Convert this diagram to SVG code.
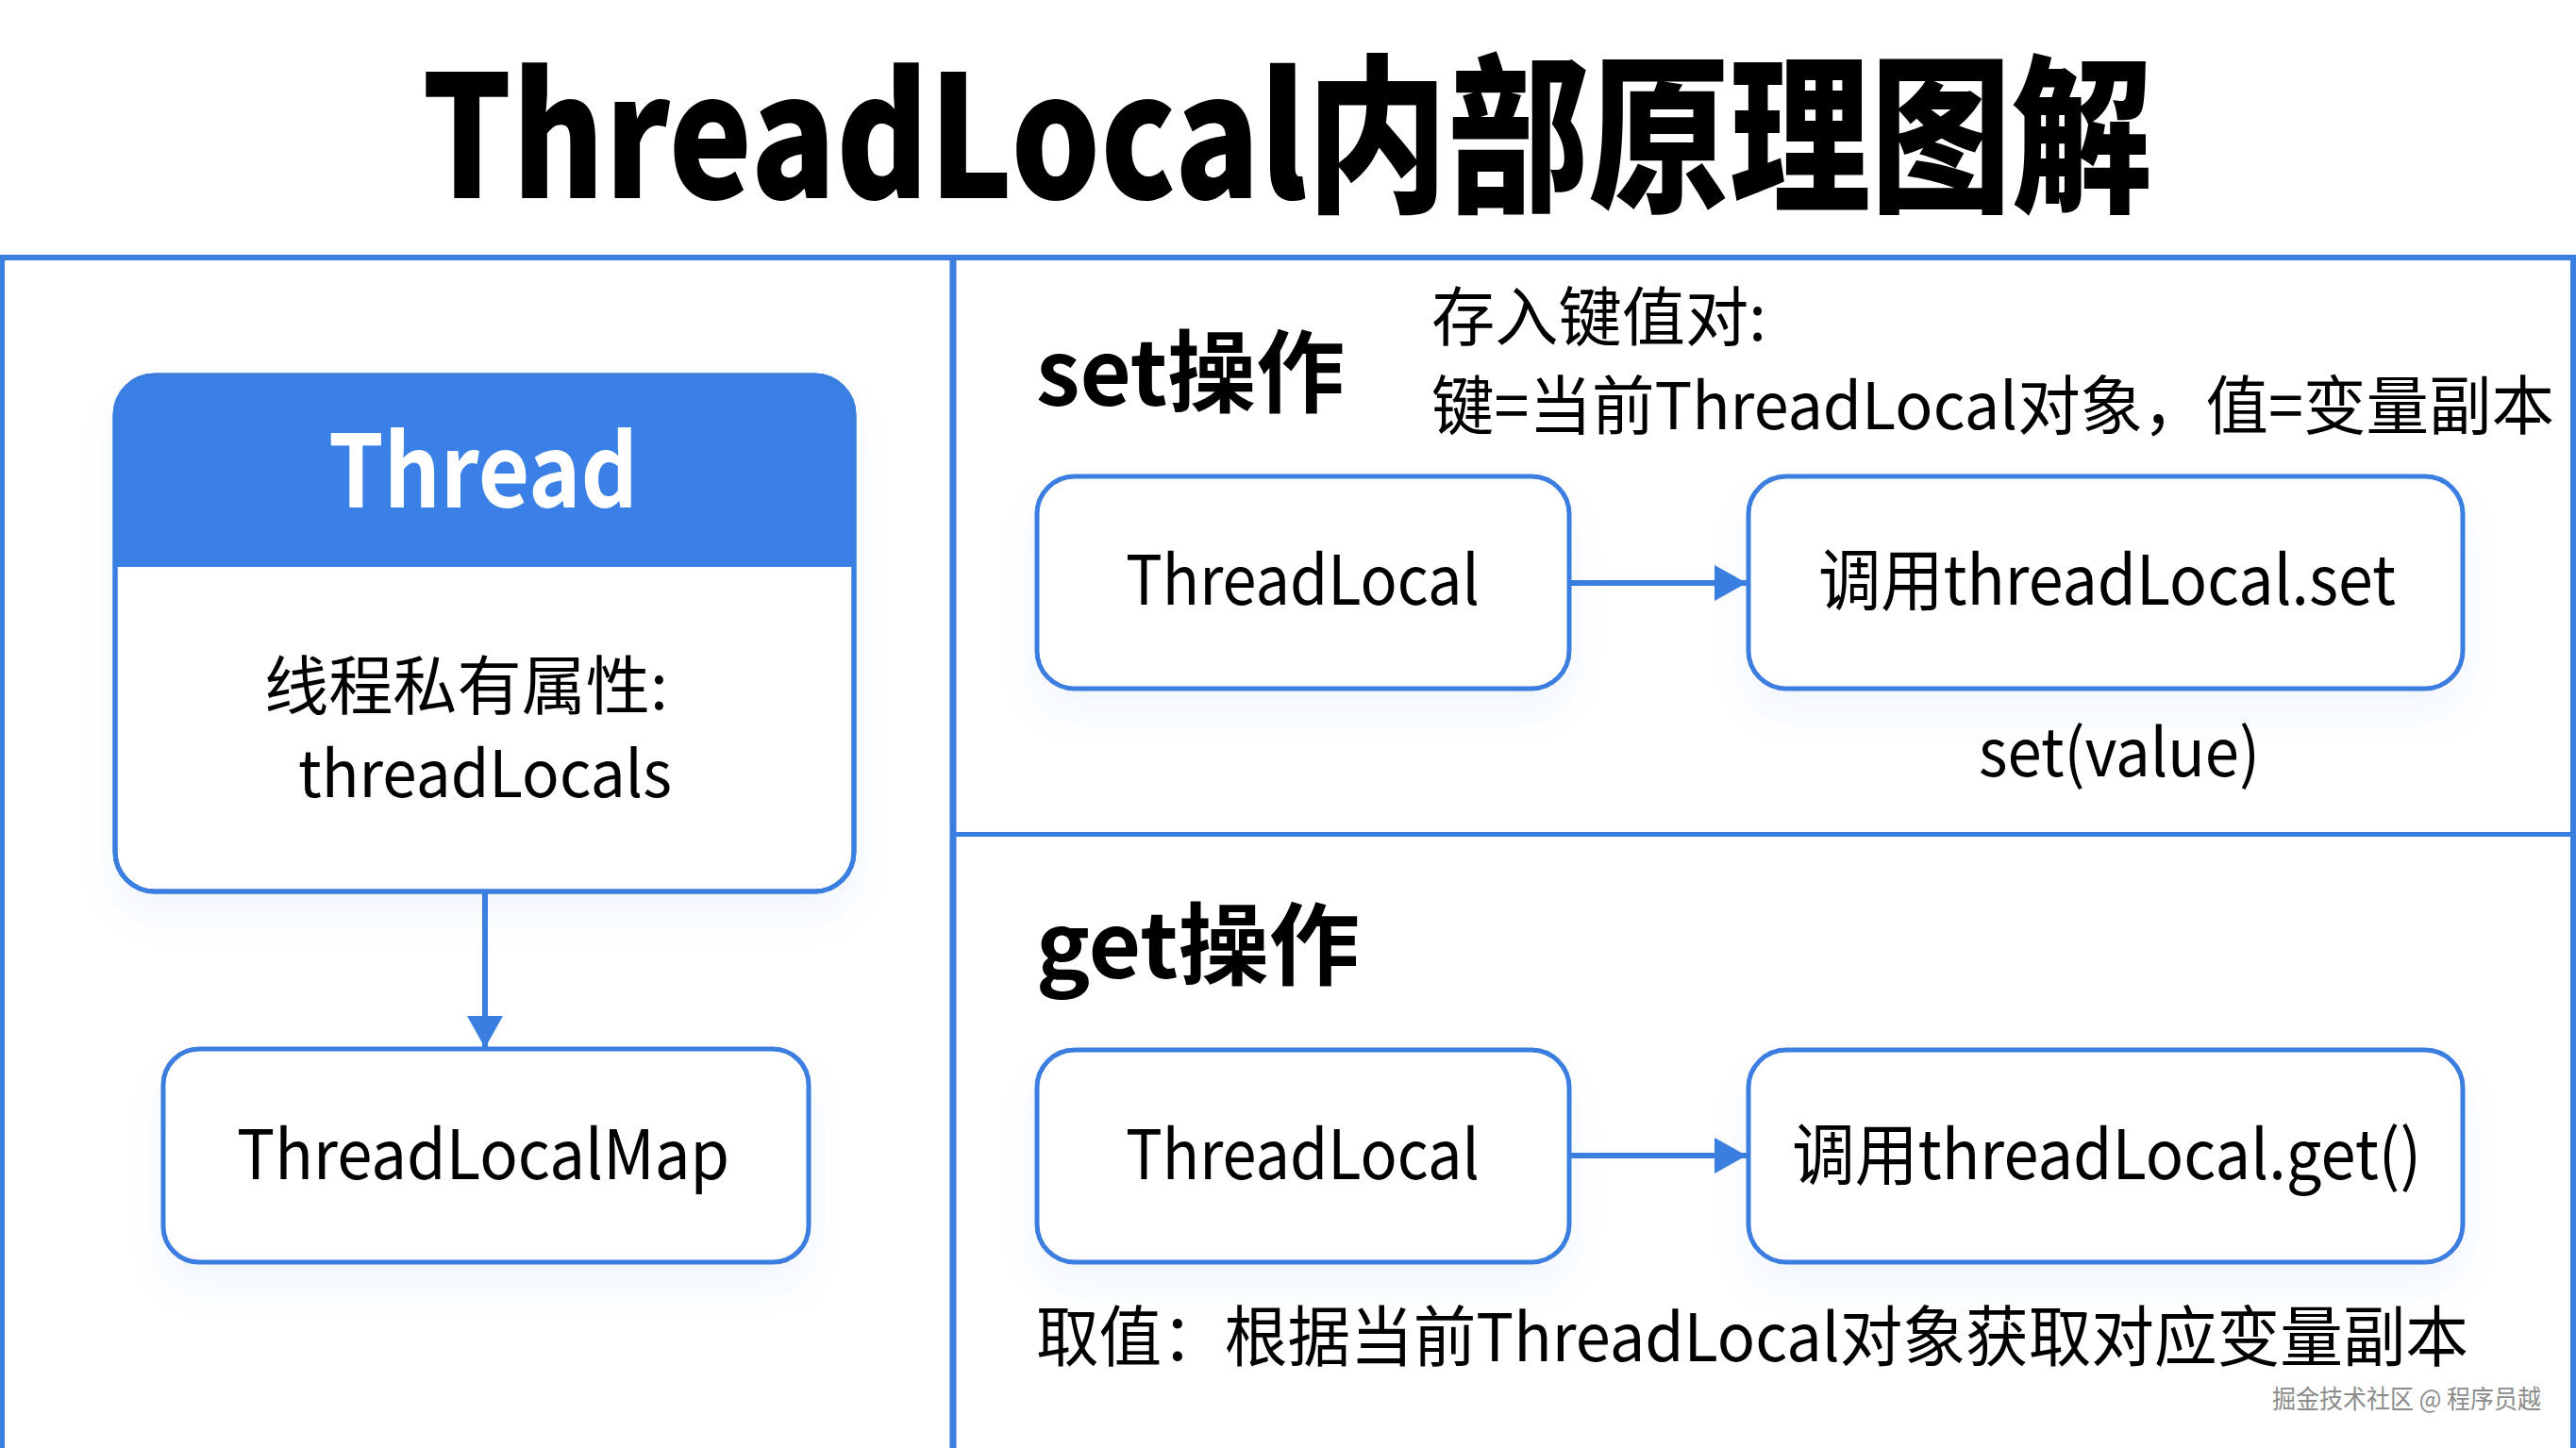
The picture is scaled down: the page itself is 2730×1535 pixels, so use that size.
<svg xmlns="http://www.w3.org/2000/svg" width="2730" height="1535" viewBox="0 0 2730 1535">
  <defs>
    <style>
      .frame { stroke: #3a7ee0; fill: none; }
      .box { fill: #ffffff; stroke: #3a7ee0; stroke-width: 5; filter: url(#shadow); }
      .outline { fill: none; stroke: #3a7ee0; stroke-width: 5; }
      .conn { stroke: #3a7ee0; stroke-width: 6; fill: none; }
      .t { font-family: "Noto Sans CJK SC", "Noto Sans", sans-serif; fill: #000000; }
      .b { font-weight: 700; }
      .h { font-weight: 900; }
      .w { fill: #ffffff; }
      .wm { font-family: "Noto Sans CJK SC", sans-serif; fill: #8c8c8c; stroke: #ffffff; stroke-width: 0.6; paint-order: stroke; }
    </style>
    <filter id="shadow" x="-10%" y="-10%" width="120%" height="140%">
      <feDropShadow dx="0" dy="24" stdDeviation="18" flood-color="#3a7ee0" flood-opacity="0.07"/>
    </filter>
    <marker id="ah" viewBox="0 0 34 38" refX="34" refY="19" markerWidth="34" markerHeight="38" markerUnits="userSpaceOnUse" orient="auto">
      <path d="M0,0 L34,19 L0,38 Z" fill="#3a7ee0"/>
    </marker>
  </defs>

  <rect x="0" y="0" width="2730" height="1535" fill="#ffffff"/>

  <g id="title">
    <text class="t h" x="447" y="210" font-size="180" textLength="1834" lengthAdjust="spacingAndGlyphs">ThreadLocal内部原理图解</text>
  </g>

  <g id="frame">
    <line class="frame" x1="0" y1="273" x2="2730" y2="273" stroke-width="6"/>
    <line class="frame" x1="2.5" y1="273" x2="2.5" y2="1535" stroke-width="5"/>
    <line class="frame" x1="2727" y1="273" x2="2727" y2="1535" stroke-width="6"/>
    <line class="frame" x1="1010" y1="273" x2="1010" y2="1535" stroke-width="7"/>
    <line class="frame" x1="1010" y1="884.5" x2="2730" y2="884.5" stroke-width="5"/>
  </g>

  <g id="node-thread">
    <rect class="box" x="122" y="398" width="783" height="547" rx="42" ry="42"/>
    <path d="M122,601 V440 A42,42 0 0 1 164,398 H863 A42,42 0 0 1 905,440 V601 Z" fill="#3b80e6"/>
    <rect class="outline" x="122" y="398" width="783" height="547" rx="42" ry="42"/>
    <text class="t b w" x="348" y="538" font-size="107" textLength="328" lengthAdjust="spacingAndGlyphs">Thread</text>
    <text class="t" x="280" y="752" font-size="68" textLength="428" lengthAdjust="spacingAndGlyphs">线程私有属性:</text>
    <text class="t" x="316" y="845" font-size="68" textLength="396" lengthAdjust="spacingAndGlyphs">threadLocals</text>
  </g>

  <g id="node-threadlocalmap">
    <rect class="box" x="173" y="1112" width="684" height="226" rx="38" ry="38"/>
    <text class="t" x="251" y="1250" font-size="72" textLength="522" lengthAdjust="spacingAndGlyphs">ThreadLocalMap</text>
  </g>

  <g id="label-set">
    <text class="t b" x="1098" y="430" font-size="95" textLength="327" lengthAdjust="spacingAndGlyphs">set操作</text>
    <text class="t" x="1517" y="361" font-size="68" textLength="355" lengthAdjust="spacingAndGlyphs">存入键值对:</text>
    <text class="t" x="1517" y="455" font-size="68" textLength="1190" lengthAdjust="spacingAndGlyphs">键=当前ThreadLocal对象，值=变量副本</text>
  </g>

  <g id="node-set-threadlocal">
    <rect class="box" x="1099" y="505" width="564" height="225" rx="40" ry="40"/>
    <text class="t" x="1193" y="641" font-size="72" textLength="375" lengthAdjust="spacingAndGlyphs">ThreadLocal</text>
  </g>

  <g id="node-set-call">
    <rect class="box" x="1853" y="505" width="757" height="225" rx="40" ry="40"/>
    <text class="t" x="1927" y="641" font-size="72" textLength="612" lengthAdjust="spacingAndGlyphs">调用threadLocal.set</text>
  </g>

  <g id="label-set-value">
    <text class="t" x="2097" y="823" font-size="70" textLength="298" lengthAdjust="spacingAndGlyphs">set(value)</text>
  </g>

  <g id="label-get">
    <text class="t b" x="1098" y="1037" font-size="95" textLength="343" lengthAdjust="spacingAndGlyphs">get操作</text>
  </g>

  <g id="node-get-threadlocal">
    <rect class="box" x="1099" y="1113" width="564" height="225" rx="40" ry="40"/>
    <text class="t" x="1193" y="1250" font-size="72" textLength="375" lengthAdjust="spacingAndGlyphs">ThreadLocal</text>
  </g>

  <g id="node-get-call">
    <rect class="box" x="1853" y="1113" width="757" height="225" rx="40" ry="40"/>
    <text class="t" x="1899" y="1250" font-size="72" textLength="667" lengthAdjust="spacingAndGlyphs">调用threadLocal.get()</text>
  </g>

  <g id="label-get-desc">
    <text class="t" x="1098" y="1443" font-size="70" textLength="1518" lengthAdjust="spacingAndGlyphs">取值：根据当前ThreadLocal对象获取对应变量副本</text>
  </g>

  <g id="connectors">
    <line class="conn" x1="514" y1="945" x2="514" y2="1111" marker-end="url(#ah)"/>
    <line class="conn" x1="1663" y1="618" x2="1851" y2="618" marker-end="url(#ah)"/>
    <line class="conn" x1="1663" y1="1225" x2="1851" y2="1225" marker-end="url(#ah)"/>
  </g>

  <g id="watermark">
    <text class="wm" x="2408" y="1493" font-size="27" textLength="285" lengthAdjust="spacingAndGlyphs">掘金技术社区 @ 程序员越</text>
  </g>
</svg>
